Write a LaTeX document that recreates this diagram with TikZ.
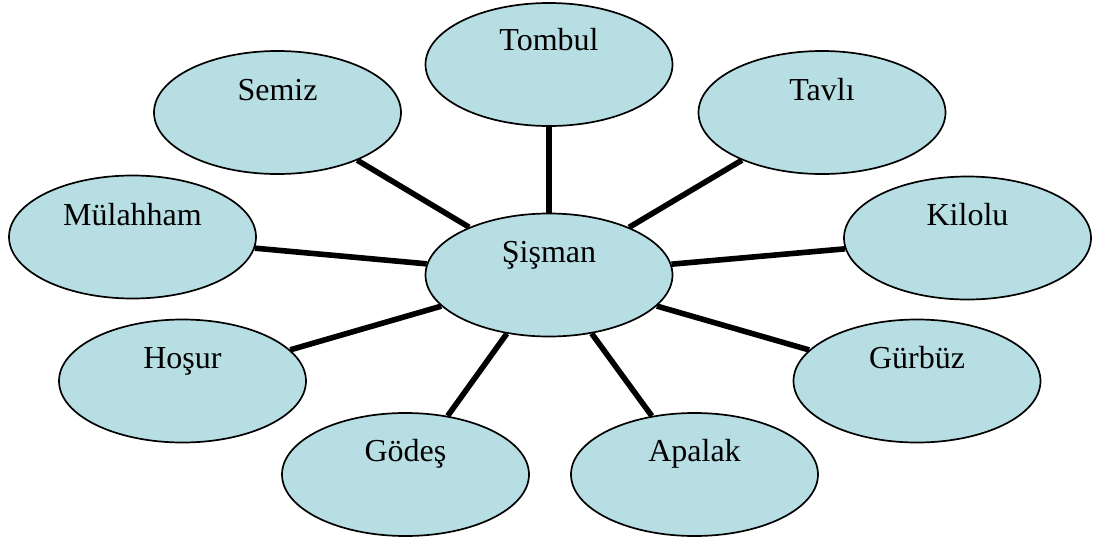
\documentclass[tikz,border=0pt]{standalone}
\usepackage{fontspec}
\setmainfont{Liberation Serif}
\usetikzlibrary{shapes.geometric,backgrounds}
\definecolor{bubblefill}{HTML}{B7DEE3}
\tikzset{
  bubble/.style={ellipse, draw=black, line width=0.85pt, fill=bubblefill,
    inner sep=0pt, minimum width=123.5pt, minimum height=61.5pt},
  word/.style={anchor=base, inner sep=0pt, font=\fontsize{16pt}{19pt}\selectfont},
  spoke/.style={draw=black, line width=2.8pt}
}
\begin{document}
\begin{tikzpicture}[x=0.5pt,y=-0.5pt]
\useasboundingbox (0,0) rectangle (1100,542);
% ellipses
\node[bubble] (sis) at (549,275) {};
\node[bubble] (tom) at (549,64.5) {};
\node[bubble] (sem) at (277.5,112.5) {};
\node[bubble] (tav) at (822,112.5) {};
\node[bubble] (mul) at (132.5,237) {};
\node[bubble] (kil) at (967.5,238) {};
\node[bubble] (hos) at (182.5,381) {};
\node[bubble] (gur) at (917,381) {};
\node[bubble] (god) at (405.5,474.5) {};
\node[bubble] (apa) at (694.5,474.5) {};
% labels
\node[word] (sist) at ([yshift=6.5pt]sis.center) {Şişman};
\node[word] (tomt) at ([yshift=7pt]tom.center) {Tombul};
\node[word] (semt) at ([yshift=6.25pt]sem.center) {Semiz};
\node[word] (tavt) at ([yshift=6.25pt]tav.center) {Tavlı};
\node[word] (mult) at ([yshift=6pt]mul.center) {Mülahham};
\node[word] (kilt) at ([yshift=6.25pt]kil.center) {Kilolu};
\node[word] (host) at ([yshift=6.25pt]hos.center) {Hoşur};
\node[word] (gurt) at ([yshift=6.25pt]gur.center) {Gürbüz};
\node[word] (godt) at ([yshift=6.5pt]god.center) {Gödeş};
\node[word] (apat) at ([yshift=6.5pt]apa.center) {Apalak};
% spokes
\begin{scope}[on background layer]
\foreach \n in {tom,sem,tav,mul,kil,hos,gur,god,apa}
  \draw[spoke] (sis) -- (\n);
\end{scope}
\end{tikzpicture}
\end{document}
